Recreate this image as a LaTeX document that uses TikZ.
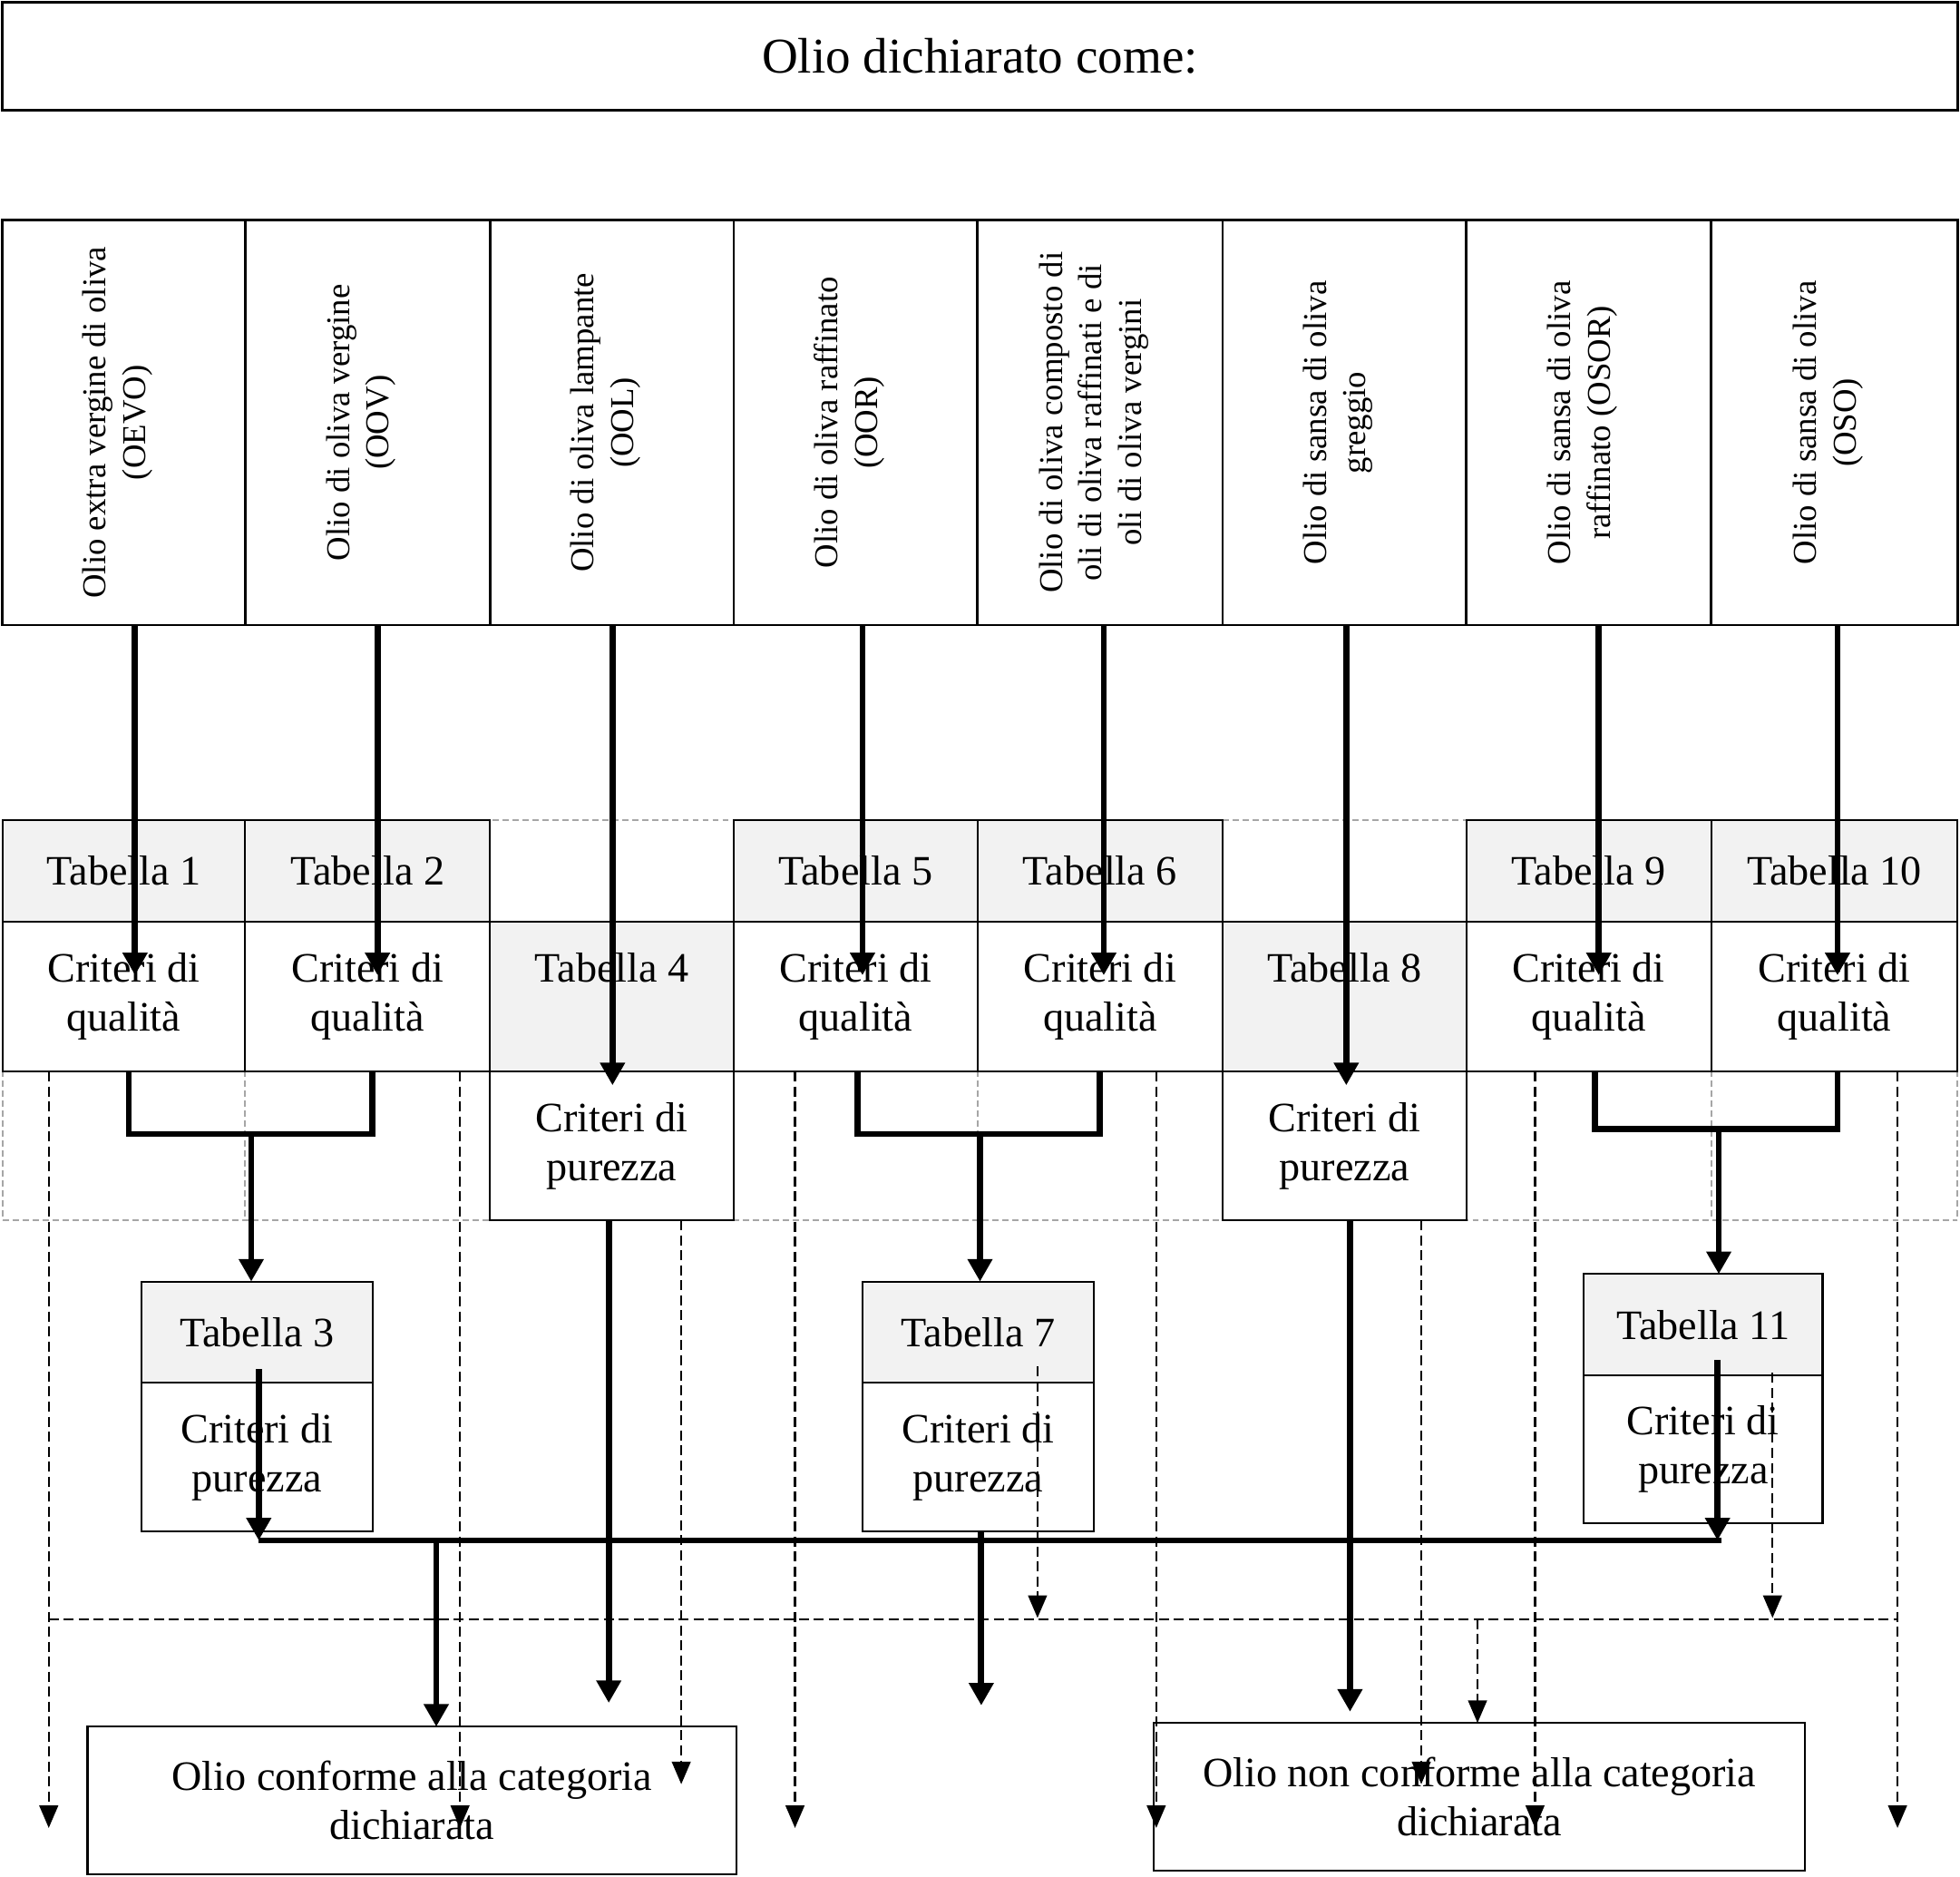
\documentclass[tikz,border=0pt]{standalone}
\usepackage{fontspec}
\setmainfont{Liberation Serif}
\usetikzlibrary{arrows.meta}
\definecolor{hdrgray}{HTML}{F2F2F2}
\definecolor{gridgray}{HTML}{A6A6A6}
\newcommand\fbody{\fontsize{33.5}{39}\selectfont}
\newcommand\ftitle{\fontsize{40}{46}\selectfont}
\newcommand\fvert{\fontsize{26.7}{31.5}\selectfont}
\begin{document}
\begin{tikzpicture}[x=1pt,y=-1pt,
 cell/.style={draw=black, line width=1.6pt, inner sep=0pt, outer sep=0pt, align=center, font=\fbody, anchor=north west},
 hcell/.style={cell, fill=hdrgray},
 vtext/.style={rotate=90, align=center, font=\fvert, inner sep=0pt},
 thk/.style={line width=5pt, -{Triangle[width=19pt,length=18pt]}},
 bracket/.style={line width=5pt, line join=miter},
 dsh/.style={line width=1.6pt, dash pattern=on 8pt off 4pt, -{Triangle[width=15pt,length=18pt]}},
 dshline/.style={line width=1.6pt, dash pattern=on 8pt off 4pt},
 tablegrid/.style={draw=gridgray, line width=1.3pt, dash pattern=on 5pt off 3pt}]
\useasboundingbox (0,0) rectangle (1568,1501);

% title
\node[cell, line width=2pt, minimum width=1564pt, minimum height=86pt, font=\ftitle] (title) at (2,2) {Olio dichiarato come:};

% category cells
\node[cell, line width=2pt, minimum width=194pt, minimum height=324pt] (cat1) at (2,176) {};
\node[cell, line width=2pt, minimum width=196pt, minimum height=324pt] (cat2) at (196,176) {};
\node[cell, line width=2pt, minimum width=195pt, minimum height=324pt] (cat3) at (392,176) {};
\node[cell, line width=2pt, minimum width=195pt, minimum height=324pt] (cat4) at (587,176) {};
\node[cell, line width=2pt, minimum width=196pt, minimum height=324pt] (cat5) at (782,176) {};
\node[cell, line width=2pt, minimum width=195pt, minimum height=324pt] (cat6) at (978,176) {};
\node[cell, line width=2pt, minimum width=196pt, minimum height=324pt] (cat7) at (1173,176) {};
\node[cell, line width=2pt, minimum width=197pt, minimum height=324pt] (cat8) at (1369,176) {};

\node[vtext, yshift=5pt] (v1) at (cat1.center) {Olio extra vergine di oliva\\(OEVO)};
\node[vtext, yshift=5pt] (v2) at (cat2.center) {Olio di oliva vergine\\(OOV)};
\node[vtext, yshift=5pt] (v3) at (cat3.center) {Olio di oliva lampante\\(OOL)};
\node[vtext, yshift=5pt] (v4) at (cat4.center) {Olio di oliva raffinato\\(OOR)};
\node[vtext, yshift=5pt] (v5) at (cat5.center) {Olio di oliva composto di\\oli di oliva raffinati e di\\oli di oliva vergini};
\node[vtext, yshift=5pt] (v6) at (cat6.center) {Olio di sansa di oliva\\greggio};
\node[vtext, yshift=5pt] (v7) at (cat7.center) {Olio di sansa di oliva\\raffinato (OSOR)};
\node[vtext, yshift=5pt] (v8) at (cat8.center) {Olio di sansa di oliva\\(OSO)};

% hidden table grid (dashed gray)
\foreach \yy in {656,737,857,976} \draw[tablegrid] (2,\yy) -- (1566,\yy);
\foreach \xx in {2,196,392,587,782,978,1173,1369,1566} \draw[tablegrid] (\xx,656) -- (\xx,976);

% table cells
\node[hcell, minimum width=194pt, minimum height=81pt] (t1) at (2,656) {Tabella 1};
\node[cell, minimum width=194pt, minimum height=120pt] (q1) at (2,737) {Criteri di\\qualità};
\node[hcell, minimum width=196pt, minimum height=81pt] (t2) at (196,656) {Tabella 2};
\node[cell, minimum width=196pt, minimum height=120pt] (q2) at (196,737) {Criteri di\\qualità};
\node[hcell, minimum width=195pt, minimum height=120pt] (t4) at (392,737) {\strut Tabella 4\\\strut};
\node[cell, minimum width=195pt, minimum height=119pt] (p4) at (392,857) {Criteri di\\purezza};
\node[hcell, minimum width=195pt, minimum height=81pt] (t5) at (587,656) {Tabella 5};
\node[cell, minimum width=195pt, minimum height=120pt] (q5) at (587,737) {Criteri di\\qualità};
\node[hcell, minimum width=196pt, minimum height=81pt] (t6) at (782,656) {Tabella 6};
\node[cell, minimum width=196pt, minimum height=120pt] (q6) at (782,737) {Criteri di\\qualità};
\node[hcell, minimum width=195pt, minimum height=120pt] (t8) at (978,737) {\strut Tabella 8\\\strut};
\node[cell, minimum width=195pt, minimum height=119pt] (p8) at (978,857) {Criteri di\\purezza};
\node[hcell, minimum width=196pt, minimum height=81pt] (t9) at (1173,656) {Tabella 9};
\node[cell, minimum width=196pt, minimum height=120pt] (q9) at (1173,737) {Criteri di\\qualità};
\node[hcell, minimum width=197pt, minimum height=81pt] (t10) at (1369,656) {Tabella 10};
\node[cell, minimum width=197pt, minimum height=120pt] (q10) at (1369,737) {Criteri di\\qualità};

% lower boxes
\node[hcell, minimum width=185pt, minimum height=81pt] (t3) at (113,1025) {Tabella 3};
\node[cell, minimum width=185pt, minimum height=119pt] (p3) at (113,1106) {Criteri di\\purezza};
\node[hcell, minimum width=185pt, minimum height=81pt] (t7) at (690,1025) {Tabella 7};
\node[cell, minimum width=185pt, minimum height=119pt] (p7) at (690,1106) {Criteri di\\purezza};
\node[hcell, minimum width=191pt, minimum height=81pt] (t11) at (1267,1019) {Tabella 11};
\node[cell, minimum width=191pt, minimum height=118pt] (p11) at (1267,1100) {Criteri di\\purezza};

% result boxes
\node[cell, minimum width=519pt, minimum height=118pt] (conf) at (70,1381) {Olio conforme alla categoria\\dichiarata};
\node[cell, minimum width=521pt, minimum height=118pt] (nonconf) at (923,1378) {Olio non conforme alla categoria\\dichiarata};

% thick arrows from categories
\coordinate (k1) at (108,780);
\coordinate (k2) at (302,780);
\coordinate (k3) at (490,868);
\coordinate (k4) at (690,780);
\coordinate (k5) at (883,780);
\coordinate (k6) at (1077,868);
\coordinate (k7) at (1279,780);
\coordinate (k8) at (1470,780);
\draw[thk] (cat1.south -| k1) -- (k1);
\draw[thk] (cat2.south -| k2) -- (k2);
\draw[thk] (cat3.south -| k3) -- (k3);
\draw[thk] (cat4.south -| k4) -- (k4);
\draw[thk] (cat5.south -| k5) -- (k5);
\draw[thk] (cat6.south -| k6) -- (k6);
\draw[thk] (cat7.south -| k7) -- (k7);
\draw[thk] (cat8.south -| k8) -- (k8);

% brackets
\coordinate (b1l) at (103,907); \coordinate (b1r) at (298,907); \coordinate (b1m) at (201,907);
\coordinate (b2l) at (686,907); \coordinate (b2r) at (880,907); \coordinate (b2m) at (784,907);
\coordinate (b3l) at (1276,903); \coordinate (b3r) at (1470,903); \coordinate (b3m) at (1375,903);
\draw[bracket] (q1.south -| b1l) -- (b1l) -- (b1r) -- (q2.south -| b1r);
\draw[bracket] (q5.south -| b2l) -- (b2l) -- (b2r) -- (q6.south -| b2r);
\draw[bracket] (q9.south -| b3l) -- (b3l) -- (b3r) -- (q10.south -| b3r);
\draw[thk] (b1m) -- (t3.north -| b1m);
\draw[thk] (b2m) -- (t7.north -| b2m);
\draw[thk] (b3m) -- (t11.north -| b3m);

% lower thick paths
\coordinate (s3) at (207,1095); \coordinate (j3) at (207,1232);
\coordinate (s11) at (1374,1088); \coordinate (j11) at (1377,1232);
\draw[thk] (s3) -- (j3);
\draw[thk] (s11) -- (s11 |- j11);
\draw[line width=5pt] (j3) -- (j11);
\coordinate (c1) at (349,1232);
\coordinate (c2) at (785,1364);
\coordinate (c3) at (487,1362);
\coordinate (c4) at (1080,1369);
\draw[thk] (c1) -- (conf.north -| c1);
\draw[thk] (p7.south -| c2) -- (c2);
\draw[thk] (p4.south -| c3) -- (c3);
\draw[thk] (p8.south -| c4) -- (c4);

% dashed arrows
\coordinate (d1) at (39,1462);
\coordinate (d2) at (368,1462);
\coordinate (d3) at (545,1427);
\coordinate (d4) at (636,1462);
\coordinate (d5) at (925,1462);
\coordinate (d6) at (1137,1427);
\coordinate (d7) at (1228,1462);
\coordinate (d8) at (1518,1462);
\draw[dsh] (q1.south -| d1) -- (d1);
\draw[dsh] (q2.south -| d2) -- (d2);
\draw[dsh] (p4.south -| d3) -- (d3);
\draw[dsh] (q5.south -| d4) -- (d4);
\draw[dsh] (q6.south -| d5) -- (d5);
\draw[dsh] (p8.south -| d6) -- (d6);
\draw[dsh] (q9.south -| d7) -- (d7);
\draw[dsh] (q10.south -| d8) -- (d8);
\coordinate (e1s) at (830,1093); \coordinate (e1) at (830,1294);
\coordinate (e2s) at (1418,1098); \coordinate (e2) at (1418,1294);
\draw[dsh] (e1s) -- (e1);
\draw[dsh] (e2s) -- (e2);
\coordinate (hl) at (0,1295);
\draw[dshline] (d1 |- hl) -- (d8 |- hl);
\coordinate (f) at (1182,1295);
\draw[dsh] (f) -- (nonconf.north -| f);
\end{tikzpicture}
\end{document}
